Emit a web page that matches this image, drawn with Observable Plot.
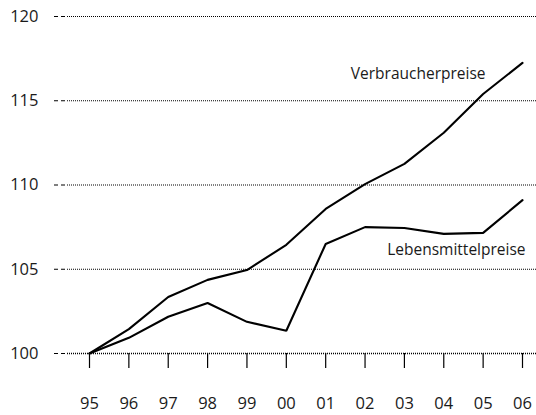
<!DOCTYPE html>
<html>
<head>
<meta charset="utf-8">
<script src="https://cdn.jsdelivr.net/npm/d3@7"></script>
<script src="https://cdn.jsdelivr.net/npm/@observablehq/plot@0.6"></script>
<style>
  html, body { margin: 0; padding: 0; background: #fff; }
  svg { display: block; }
</style>
</head>
<body>
<div id="chart"></div>
<script>
const years = [1995, 1996, 1997, 1998, 1999, 2000, 2001, 2002, 2003, 2004, 2005, 2006];
const yearLabels = ["95", "96", "97", "98", "99", "00", "01", "02", "03", "04", "05", "06"];
const verbraucherpreise = [100, 101.45, 103.35, 104.37, 104.95, 106.45, 108.58, 110.05, 111.25, 113.1, 115.4, 117.25];
const lebensmittelpreise = [100, 100.93, 102.18, 103.0, 101.88, 101.35, 106.5, 107.5, 107.45, 107.1, 107.16, 109.1];
const yTicks = [100, 105, 110, 115, 120];
const seriesNames = ["Verbraucherpreise", "Lebensmittelpreise"];
const labelYears = [2003.35, 2004.32];
const labelValues = [116.6, 106.15];

const data = [];
years.forEach((yr, i) => {
  data.push({series: seriesNames[0], year: yr, value: verbraucherpreise[i]});
  data.push({series: seriesNames[1], year: yr, value: lebensmittelpreise[i]});
});
const labels = seriesNames.map((s, i) => ({series: s, year: labelYears[i], value: labelValues[i]}));

const fontFamily = "'Open Sans', sans-serif";

const chart = Plot.plot({
  width: 536,
  height: 415,
  marginLeft: 54,
  marginRight: 0,
  marginTop: 16,
  marginBottom: 62,
  style: {fontFamily, fontSize: "16px", color: "#1a1a1a", background: "#fff"},
  x: {domain: [1995, 2006], insetLeft: 35, insetRight: 14},
  y: {domain: [100, 120]},
  marks: [
    Plot.ruleY(yTicks, {stroke: "#000", strokeWidth: 1, strokeDasharray: "4,3", insetRight: 469}),
    Plot.ruleY(yTicks.filter(d => d !== 100), {stroke: "#000", strokeWidth: 1, strokeDasharray: "1,1", insetLeft: 13}),
    Plot.ruleY([100], {stroke: "#000", strokeWidth: 1.6, strokeDasharray: "1,1", insetLeft: 13}),
    Plot.axisY({ticks: yTicks, tickSize: 0, tickPadding: 16, fontSize: 16.5, label: null}),
    Plot.axisX({ticks: years, tickSize: 15, tickPadding: 29, fontSize: 16.5, label: null,
      tickFormat: (d) => yearLabels[years.indexOf(d)], stroke: "#000", strokeWidth: 1.2}),
    Plot.line(data, {x: "year", y: "value", z: "series", stroke: "#000", strokeWidth: 2.1, strokeLinejoin: "miter"}),
    Plot.text(labels, {x: "year", y: "value", text: "series", fontSize: 15.5, fill: "#1a1a1a", textAnchor: "middle"})
  ]
});
document.getElementById("chart").appendChild(chart);
</script>
</body>
</html>
